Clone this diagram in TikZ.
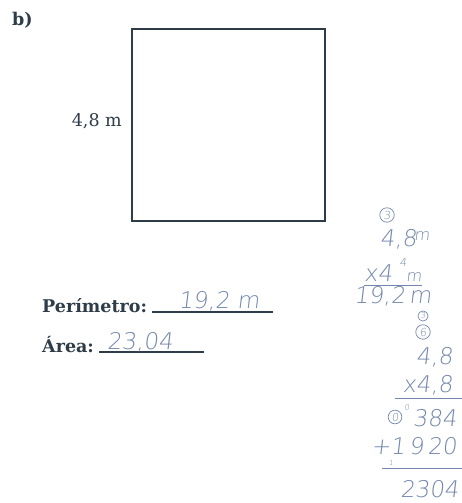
\documentclass[tikz,border=0pt]{standalone}
\usepackage{fontspec}
\setmainfont{DejaVu Serif}
\newfontfamily\handfont{DejaVu Sans ExtraLight}[FakeSlant=0.12]
\usetikzlibrary{positioning}
\definecolor{ink}{RGB}{45,60,72}
\definecolor{pencil}{RGB}{115,135,172}

\begin{document}
\begin{tikzpicture}[x=1pt,y=-1pt,
print/.style={text=ink,font=\fontsize{17.5}{20}\selectfont,inner sep=0pt},
hand/.style={text=pencil,font=\handfont\fontsize{23}{26}\selectfont,inner sep=0pt},
handsmall/.style={text=pencil,font=\handfont\fontsize{11}{12}\selectfont,inner sep=0pt},
handunit/.style={text=pencil,font=\handfont\fontsize{16}{18}\selectfont,inner sep=0pt},
ring/.style={circle,draw=pencil,line width=0.7pt,inner sep=1.3pt,text=pencil,font=\handfont\fontsize{11}{12}\selectfont},
sumline/.style={draw=pencil,line width=0.8pt},
blank/.style={draw=ink,line width=1.3pt}]
\useasboundingbox (0,0) rectangle (462,503);
\node[print,anchor=base west] (part) at (12,26) {\textbf{b)}};
\node[draw=ink,line width=1.3pt,minimum width=193pt,minimum height=192pt] (square) at (228.5,125) {};
\node[print,anchor=base east] (side) at (122,126) {4,8 m};
\node[print,anchor=base west] (perim) at (42,312) {\textbf{Perímetro:}};
\node[print,anchor=base west] (area) at (42,352) {\textbf{Área:}};
\draw[blank] ([xshift=5pt]perim.base east) -- +(121,0);
\draw[blank] ([xshift=5pt]area.base east) -- +(105,0);
\node[hand,anchor=base] (perimval) at (219,308) {19,2 m};
\node[hand,anchor=base] (areaval) at (140,349) {23,04};
\node[ring] (carry1) at (387,215) {3};
\node[hand,anchor=base west] (len) at (380,246) {4,8};
\node[handunit,anchor=base west] (unit1) at (414,240) {m};
\node[hand,anchor=base west] (times1) at (364,281) {x4};
\node[handsmall] (carry2) at (403,262) {4};
\node[handunit,anchor=base west] (unit2) at (406,281) {m};
\draw[sumline] ([yshift=-4pt]times1.base west) -- ([yshift=-4pt]unit2.base east);
\node[hand,anchor=base west] (perimcalc) at (354,303) {19,2\,m};
\node[ring,inner sep=0.8pt,font=\handfont\fontsize{8}{9}\selectfont] (carry3) at (423,316) {3};
\node[ring] (carry4) at (423,332) {6};
\node[hand,anchor=base east] (fac1) at (453,364) {4,8};
\node[hand,anchor=base east] (fac2) at (453,392) {x4,8};
\draw[sumline] (395,398) -- (462,398);
\node[ring,inner sep=1pt] (carry5) at (395,417) {0};
\node[handsmall,font=\handfont\fontsize{8}{9}\selectfont] (carry6) at (407,408) {0};
\node[hand,anchor=base east] (row1) at (457,426) {384};
\node[hand,anchor=base east] (row2) at (457,454) {+1\,9\,20};
\node[handsmall,font=\handfont\fontsize{7}{8}\selectfont] (carry7) at (391,463) {1};
\draw[sumline] (382,468) -- (462,468);
\node[hand,anchor=base east] (prod) at (459,497) {2304};
\end{tikzpicture}
\end{document}
